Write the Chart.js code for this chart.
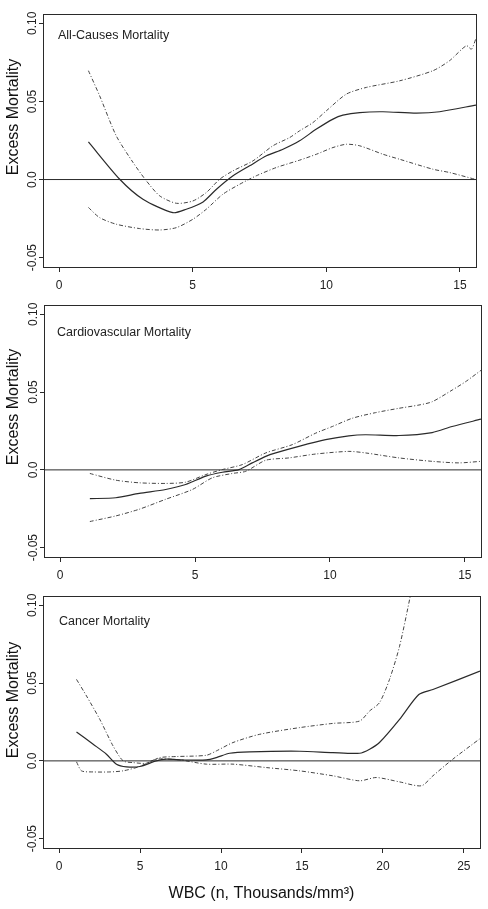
<!DOCTYPE html>
<html>
<head>
<meta charset="utf-8">
<script src="https://cdn.jsdelivr.net/npm/chart.js@4.4.1/dist/chart.umd.min.js"></script>
<style>
  body { margin: 0; background: #fff; width: 488px; height: 909px; position: relative; overflow: hidden; }
  canvas { position: absolute; left: 0; }
</style>
</head>
<body>
<canvas id="allCauses" width="488" height="295" style="top:0px"></canvas>
<canvas id="cardio" width="488" height="295" style="top:290px"></canvas>
<canvas id="cancer" width="488" height="329" style="top:580px"></canvas>
<script>
// tick values / labels
const yTicks = [-0.05, 0, 0.05, 0.10];
const yTickLabels = ['-0.05', '0.0', '0.05', '0.10'];
const xTicksShort = [0, 5, 10, 15];
const xTicksLong = [0, 5, 10, 15, 20, 25];

// All-causes mortality: [WBC, excess mortality]
const allFit = [[1.1,0.0241],[2.27,0.0002],[3.14,-0.0126],[4.26,-0.0212],[4.76,-0.019],[5.39,-0.0143],[5.89,-0.0062],[6.51,0.0024],[7.13,0.0088],[7.76,0.0152],[8.38,0.0194],[9.0,0.0248],[9.63,0.0323],[10.25,0.0387],[10.62,0.0412],[11.25,0.0429],[12.12,0.0434],[13.37,0.0425],[14.24,0.0434],[15.6,0.0477]];
const allUpper = [[1.1,0.0697],[1.52,0.0536],[2.14,0.028],[2.77,0.0109],[3.27,-0.0009],[3.77,-0.0105],[4.39,-0.0152],[5.01,-0.0137],[5.51,-0.0083],[6.01,0.0002],[6.51,0.0056],[7.26,0.012],[8.0,0.0216],[8.63,0.0269],[9.0,0.0312],[9.5,0.0365],[10.0,0.044],[10.75,0.0547],[11.5,0.059],[12.74,0.0632],[13.99,0.0697],[14.61,0.0761],[15.24,0.0857],[15.43,0.0835],[15.6,0.0904]];
const allLower = [[1.1,-0.0179],[1.52,-0.0244],[2.14,-0.0286],[3.02,-0.0314],[3.77,-0.0323],[4.39,-0.0308],[5.01,-0.0254],[5.51,-0.019],[6.13,-0.0094],[6.76,-0.003],[7.38,0.0024],[8.13,0.0077],[9.0,0.0124],[9.63,0.0162],[10.25,0.0205],[10.75,0.0226],[11.25,0.0216],[12.12,0.0162],[12.74,0.013],[13.99,0.0066],[14.61,0.0045],[15.6,0.0]];

// Cardiovascular mortality
const cvFit = [[1.1,-0.0185],[2.06,-0.0179],[2.93,-0.0151],[3.91,-0.0126],[4.65,-0.0094],[5.4,-0.004],[6.01,-0.0015],[6.63,0.0002],[7.12,0.0045],[7.62,0.0087],[7.99,0.0109],[8.85,0.0151],[9.84,0.0194],[10.7,0.0219],[11.32,0.0226],[12.56,0.0221],[13.79,0.024],[14.53,0.0279],[15.6,0.0326]];
const cvUpper = [[1.1,-0.0023],[2.06,-0.0066],[2.93,-0.0083],[3.91,-0.0087],[4.65,-0.0079],[5.4,-0.003],[6.01,0.0002],[6.75,0.0034],[7.62,0.0109],[8.6,0.0162],[9.47,0.0236],[10.09,0.0279],[10.83,0.0332],[11.69,0.0368],[12.56,0.0396],[13.3,0.0417],[13.79,0.0438],[14.53,0.0513],[15.02,0.0566],[15.6,0.064]];
const cvLower = [[1.1,-0.0332],[2.06,-0.0296],[2.93,-0.0253],[3.91,-0.0189],[4.9,-0.0126],[5.64,-0.0051],[6.38,-0.0023],[6.88,-0.0009],[7.62,0.0062],[8.48,0.0077],[9.47,0.0102],[10.7,0.0119],[11.32,0.0109],[12.56,0.0077],[13.79,0.0055],[14.78,0.0045],[15.6,0.0055]];

// Cancer mortality
const caFit = [[1.07,0.0186],[2.1,0.0107],[2.92,0.0043],[3.54,-0.0021],[4.16,-0.0038],[4.98,-0.0036],[6.0,0.0],[6.63,0.0011],[7.65,0.0006],[9.09,0.0006],[9.71,0.0021],[10.53,0.0049],[11.77,0.0058],[14.86,0.0062],[16.91,0.0053],[18.56,0.0049],[19.18,0.0075],[19.79,0.0118],[21.03,0.0267],[22.22,0.0427],[23.09,0.0459],[26.0,0.0577]];
const caUpper = [[1.07,0.0524],[1.69,0.0417],[2.51,0.0267],[3.33,0.0096],[3.95,0.0],[4.57,-0.0011],[5.39,-0.0015],[6.21,0.0021],[7.24,0.0028],[9.09,0.0036],[9.71,0.0064],[10.74,0.0118],[12.39,0.0171],[14.86,0.0214],[16.91,0.0241],[18.56,0.0256],[19.18,0.0321],[19.79,0.0374],[20.41,0.0524],[21.03,0.0737],[21.69,0.1058],[21.9,0.118]];
const caLower = [[1.07,-0.0006],[1.38,-0.0064],[2.1,-0.0071],[3.13,-0.0071],[3.95,-0.0064],[4.98,-0.0036],[6.0,0.0011],[7.45,0.0006],[9.09,-0.0021],[10.74,-0.0021],[12.8,-0.0043],[14.86,-0.0064],[16.91,-0.0096],[18.56,-0.0128],[19.59,-0.0107],[21.03,-0.0135],[22.38,-0.016],[23.09,-0.0096],[24.32,0.0011],[26.0,0.0143]];

Chart.defaults.font.family = '"Liberation Sans", Arial, Helvetica, sans-serif';
Chart.defaults.color = '#222';

const ink = '#2a2a2a';
const toXY = pts => pts.map(([x, y]) => ({ x, y }));

const frame = {
  id: 'frame',
  afterDraw(chart, args, o) {
    const { ctx, chartArea: a } = chart;
    ctx.save();
    ctx.strokeStyle = ink;
    ctx.lineWidth = 1;
    ctx.strokeRect(Math.round(a.left) + 0.5, Math.round(a.top) + 0.5, Math.round(a.right - a.left), Math.round(a.bottom - a.top));
    // y tick labels, rotated like the original
    const ys = chart.scales.y;
    ctx.fillStyle = '#222';
    ctx.font = '12px "Liberation Sans", Arial, sans-serif';
    ctx.textAlign = 'center';
    ctx.textBaseline = 'middle';
    yTicks.forEach((v, i) => {
      ctx.save();
      ctx.translate(a.left - 10, ys.getPixelForValue(v));
      ctx.rotate(-Math.PI / 2);
      ctx.fillText(yTickLabels[i], 0, 0);
      ctx.restore();
    });
    // y axis title
    ctx.save();
    ctx.font = '16px "Liberation Sans", Arial, sans-serif';
    ctx.fillStyle = '#111';
    ctx.translate(14, o.titleY);
    ctx.rotate(-Math.PI / 2);
    ctx.fillText('Excess Mortality', 0, 0);
    ctx.restore();
    // panel label
    ctx.font = '12.5px "Liberation Sans", Arial, sans-serif';
    ctx.textAlign = 'left';
    ctx.fillText(o.label, o.labelX, o.labelY);
    ctx.restore();
  }
};

function ciLine(pts) {
  return { data: toXY(pts), borderColor: '#444', borderWidth: 1, borderDash: [4, 2, 1, 2], pointRadius: 0, tension: 0.25 };
}

function makePanel(id, cfg) {
  return new Chart(document.getElementById(id), {
    type: 'line',
    data: {
      datasets: [
        { data: [{ x: -cfg.xPad, y: 0 }, { x: cfg.xMax + cfg.xPad, y: 0 }], borderColor: ink, borderWidth: 1, pointRadius: 0 },
        { data: toXY(cfg.fit), borderColor: ink, borderWidth: 1.2, pointRadius: 0, tension: 0.25 },
        ciLine(cfg.upper),
        ciLine(cfg.lower)
      ]
    },
    options: {
      responsive: false,
      animation: false,
      layout: { padding: { top: cfg.padTop, right: cfg.padRight, left: 0, bottom: 0 } },
      plugins: {
        legend: { display: false },
        tooltip: { enabled: false },
        frame: { label: cfg.label, labelX: cfg.labelX, labelY: cfg.labelY, titleY: cfg.titleY }
      },
      scales: {
        x: {
          type: 'linear',
          min: -cfg.xPad,
          max: cfg.xMax + cfg.xPad,
          afterBuildTicks: s => { s.ticks = cfg.xTicks.map(v => ({ value: v })); },
          afterFit: s => { s.height = cfg.xHeight; },
          grid: { drawOnChartArea: false, tickLength: 5, color: ink },
          border: { color: ink },
          ticks: { font: { size: 12 }, padding: 6, maxRotation: 0, color: '#222' },
          title: cfg.xTitle ? { display: true, text: cfg.xTitle, font: { size: 16 }, color: '#111', padding: { top: 0, bottom: 6 } } : { display: false }
        },
        y: {
          min: -0.056,
          max: 0.106,
          afterBuildTicks: s => { s.ticks = yTicks.map(v => ({ value: v })); },
          afterFit: s => { s.width = cfg.yWidth; },
          grid: { drawOnChartArea: false, tickLength: 4, color: ink },
          border: { color: ink },
          ticks: { display: false }
        }
      }
    },
    plugins: [frame]
  });
}

makePanel('allCauses', {
  fit: allFit, upper: allUpper, lower: allLower,
  xMax: 15, xPad: 0.6, xTicks: xTicksShort,
  padTop: 14, padRight: 12, yWidth: 43, xHeight: 28,
  label: 'All-Causes Mortality', labelX: 58, labelY: 36, titleY: 117
});

makePanel('cardio', {
  fit: cvFit, upper: cvUpper, lower: cvLower,
  xMax: 15, xPad: 0.6, xTicks: xTicksShort,
  padTop: 15, padRight: 7, yWidth: 44, xHeight: 28,
  label: 'Cardiovascular Mortality', labelX: 57, labelY: 43, titleY: 117
});

makePanel('cancer', {
  fit: caFit, upper: caUpper, lower: caLower,
  xMax: 25, xPad: 1, xTicks: xTicksLong,
  padTop: 16, padRight: 8, yWidth: 43, xHeight: 61,
  label: 'Cancer Mortality', labelX: 59, labelY: 42, titleY: 120,
  xTitle: 'WBC (n, Thousands/mm\u00B3)'
});
</script>
</body>
</html>
